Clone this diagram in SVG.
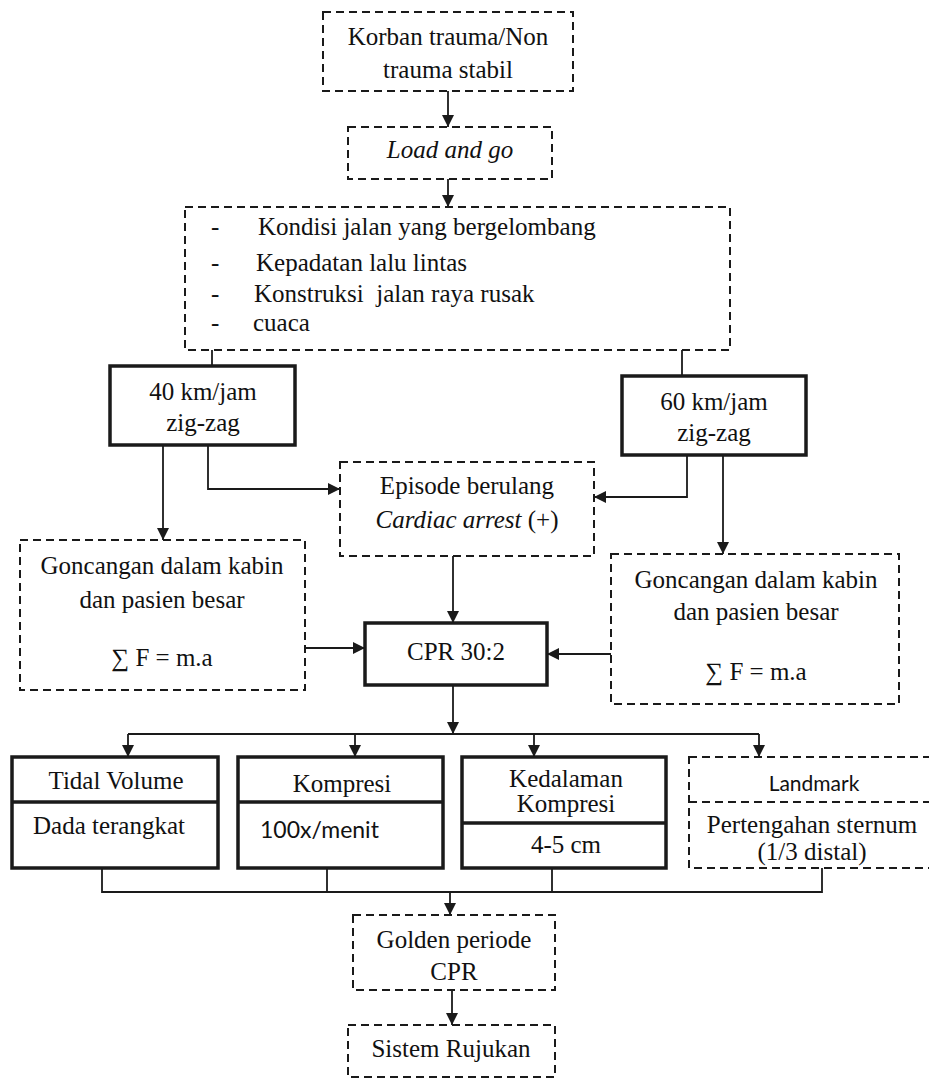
<svg xmlns="http://www.w3.org/2000/svg" width="929" height="1079" viewBox="0 0 929 1079">
<style>
.bg{fill:#fff}
.dash{fill:#fff;stroke:#1a1a1a;stroke-width:2;stroke-dasharray:8 5}
.solid{fill:#fff;stroke:#1a1a1a;stroke-width:3.5}
.div{stroke:#1a1a1a;stroke-width:3.5}
.divd{stroke:#1a1a1a;stroke-width:2;stroke-dasharray:8 5}
.c{fill:none;stroke:#1a1a1a;stroke-width:1.8}
.t{font-family:"Liberation Serif","Times New Roman",serif;font-size:25px;fill:#111;text-anchor:middle}
.tl{font-family:"Liberation Serif","Times New Roman",serif;font-size:25px;fill:#111}
.s{font-family:Lato,"Liberation Sans",sans-serif;fill:#111}
.i{font-style:italic}
</style>
<defs>
<marker id="ah" markerUnits="userSpaceOnUse" markerWidth="12" markerHeight="12" refX="12" refY="6" orient="auto">
<path d="M0,0 L12,6 L0,12 z" fill="#1a1a1a"/>
</marker>
</defs>
<rect class="bg" x="0" y="0" width="929" height="1079"/>

<g id="connectors">
<line class="c" x1="448" y1="91" x2="448" y2="127" marker-end="url(#ah)"/>
<line class="c" x1="448" y1="179" x2="448" y2="207" marker-end="url(#ah)"/>
<line class="c" x1="212" y1="350" x2="212" y2="366"/>
<line class="c" x1="682" y1="350" x2="682" y2="376"/>
<line class="c" x1="163" y1="445" x2="163" y2="540" marker-end="url(#ah)"/>
<polyline class="c" points="208,445 208,489 340,489" marker-end="url(#ah)"/>
<polyline class="c" points="687,455 687,497 594,497" marker-end="url(#ah)"/>
<line class="c" x1="723" y1="455" x2="723" y2="554" marker-end="url(#ah)"/>
<line class="c" x1="453" y1="556" x2="453" y2="623" marker-end="url(#ah)"/>
<line class="c" x1="305" y1="648" x2="365" y2="648" marker-end="url(#ah)"/>
<line class="c" x1="611" y1="654" x2="547" y2="654" marker-end="url(#ah)"/>
<line class="c" x1="453" y1="685" x2="453" y2="734" marker-end="url(#ah)"/>
<line class="c" x1="128" y1="734" x2="759" y2="734"/>
<line class="c" x1="128" y1="734" x2="128" y2="757" marker-end="url(#ah)"/>
<line class="c" x1="355" y1="734" x2="355" y2="757" marker-end="url(#ah)"/>
<line class="c" x1="534" y1="734" x2="534" y2="757" marker-end="url(#ah)"/>
<line class="c" x1="759" y1="734" x2="759" y2="757" marker-end="url(#ah)"/>
<polyline class="c" points="102,868 102,892 822,892 822,868"/>
<line class="c" x1="327" y1="868" x2="327" y2="892"/>
<line class="c" x1="552" y1="868" x2="552" y2="892"/>
<line class="c" x1="450" y1="892" x2="450" y2="915" marker-end="url(#ah)"/>
<line class="c" x1="452" y1="990" x2="452" y2="1025" marker-end="url(#ah)"/>
</g>

<g id="korban">
<rect class="dash" x="323" y="12" width="250" height="79"/>
<text class="t" x="448" y="45">Korban trauma/Non</text>
<text class="t" x="448" y="78">trauma stabil</text>
</g>

<g id="load">
<rect class="dash" x="348" y="127" width="204" height="52"/>
<text class="t i" x="450" y="158">Load and go</text>
</g>

<g id="kondisi">
<rect class="dash" x="185" y="207" width="545" height="143"/>
<text class="tl" x="211" y="235">-</text>
<text class="tl" x="258" y="235">Kondisi jalan yang bergelombang</text>
<text class="tl" x="211" y="271">-</text>
<text class="tl" x="256" y="271">Kepadatan lalu lintas</text>
<text class="tl" x="211" y="302">-</text>
<text class="tl" x="254" y="302" xml:space="preserve">Konstruksi  jalan raya rusak</text>
<text class="tl" x="211" y="331">-</text>
<text class="tl" x="253" y="331">cuaca</text>
</g>

<g id="km40">
<rect class="solid" x="110" y="366" width="185" height="79"/>
<text class="t" x="203" y="400">40 km/jam</text>
<text class="t" x="203" y="431">zig-zag</text>
</g>

<g id="km60">
<rect class="solid" x="622" y="376" width="184" height="79"/>
<text class="t" x="714" y="410">60 km/jam</text>
<text class="t" x="714" y="441">zig-zag</text>
</g>

<g id="episode">
<rect class="dash" x="340" y="462" width="254" height="94"/>
<text class="t" x="467" y="494">Episode berulang</text>
<text class="t" x="467" y="528"><tspan font-style="italic">Cardiac arrest</tspan> (+)</text>
</g>

<g id="goncangan-kiri">
<rect class="dash" x="20" y="540" width="285" height="150"/>
<text class="t" x="162" y="574">Goncangan dalam kabin</text>
<text class="t" x="162" y="608">dan pasien besar</text>
<text class="t" x="162" y="666">∑ F = m.a</text>
</g>

<g id="goncangan-kanan">
<rect class="dash" x="611" y="554" width="288" height="150"/>
<text class="t" x="756" y="588">Goncangan dalam kabin</text>
<text class="t" x="756" y="620">dan pasien besar</text>
<text class="t" x="756" y="680">∑ F = m.a</text>
</g>

<g id="cpr">
<rect class="solid" x="365" y="623" width="182" height="62"/>
<text class="t" x="456" y="660" font-size="27">CPR 30:2</text>
</g>

<g id="tidal">
<rect class="solid" x="12" y="757" width="206" height="111"/>
<line class="div" x1="12" y1="802" x2="218" y2="802"/>
<text class="t" x="116" y="789">Tidal Volume</text>
<text class="t" x="109" y="834">Dada terangkat</text>
</g>

<g id="kompresi">
<rect class="solid" x="238" y="757" width="205" height="111"/>
<line class="div" x1="238" y1="802" x2="443" y2="802"/>
<text class="t" x="342" y="792">Kompresi</text>
<text class="s" x="260" y="838" font-size="23">100x/menit</text>
</g>

<g id="kedalaman">
<rect class="solid" x="462" y="757" width="204" height="111"/>
<line class="div" x1="462" y1="823" x2="666" y2="823"/>
<text class="t" x="566" y="787" font-size="22.5">Kedalaman</text>
<text class="t" x="566" y="812" font-size="22.5">Kompresi</text>
<text class="t" x="566" y="853" font-size="22.5">4-5 cm</text>
</g>

<g id="landmark">
<rect class="dash" x="689" y="757" width="250" height="111"/>
<line class="divd" x1="689" y1="802" x2="929" y2="802"/>
<text class="s" x="814" y="791" font-size="21" text-anchor="middle">Landmark</text>
<text class="t" x="812" y="833" font-size="21.5">Pertengahan sternum</text>
<text class="t" x="812" y="860" font-size="21.5">(1/3 distal)</text>
</g>

<g id="golden">
<rect class="dash" x="353" y="915" width="202" height="75"/>
<text class="t" x="454" y="948">Golden periode</text>
<text class="t" x="454" y="980">CPR</text>
</g>

<g id="rujukan">
<rect class="dash" x="348" y="1025" width="207" height="52"/>
<text class="t" x="451" y="1057" font-size="22.5">Sistem Rujukan</text>
</g>
</svg>
